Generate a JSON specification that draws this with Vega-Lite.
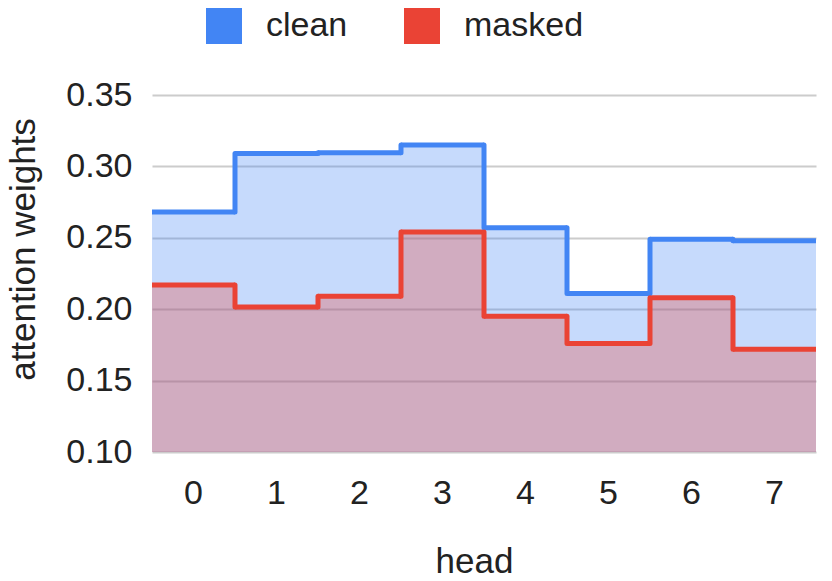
{
  "$schema": "https://vega.github.io/schema/vega-lite/v6.json",
  "width": 664,
  "height": 357,
  "autosize": {"type": "none"},
  "padding": {"left": 152, "top": 95, "right": 16, "bottom": 129},
  "config": {
    "view": {"stroke": null},
    "font": "Liberation Sans",
    "axis": {"labelFont": "Liberation Sans", "titleFont": "Liberation Sans", "labelColor": "#222", "titleColor": "#222", "labelFontSize": 34, "titleFontSize": 35, "titleFontWeight": "normal", "ticks": false, "domain": false},
    "legend": {"symbolOpacity": 1, "symbolStrokeWidth": 0}
  },
  "data": {
    "values": [
      {"head": 0, "clean": 0.268, "masked": 0.217},
      {"head": 1, "clean": 0.309, "masked": 0.2015},
      {"head": 2, "clean": 0.3095, "masked": 0.209},
      {"head": 3, "clean": 0.315, "masked": 0.254},
      {"head": 4, "clean": 0.257, "masked": 0.195},
      {"head": 5, "clean": 0.211, "masked": 0.176},
      {"head": 6, "clean": 0.249, "masked": 0.208},
      {"head": 7, "clean": 0.248, "masked": 0.172}
    ]
  },
  "transform": [
    {"fold": ["clean", "masked"], "as": ["series", "value"]},
    {"window": [{"op": "lead", "field": "value", "as": "next"}], "groupby": ["series"], "sort": [{"field": "head", "order": "ascending"}]}
  ],
  "encoding": {
    "x": {
      "field": "head", "type": "ordinal",
      "scale": {"paddingInner": 0, "paddingOuter": 0},
      "axis": {"labelAngle": 0, "labelPadding": 24, "title": "head", "titlePadding": 34, "titleX": 322, "titleAlign": "center", "grid": false}
    },
    "color": {
      "field": "series", "type": "nominal",
      "scale": {"domain": ["clean", "masked"], "range": ["#4285F4", "#EA4335"]},
      "legend": {"orient": "none", "legendX": 54, "legendY": -87, "direction": "horizontal", "title": null, "symbolType": "square", "symbolSize": 1296, "labelFontSize": 34, "labelColor": "#222", "labelFont": "Liberation Sans", "labelOffset": 24, "columnPadding": 56}
    }
  },
  "layer": [
    {
      "mark": {"type": "bar", "opacity": 0.3},
      "encoding": {
        "y": {
          "field": "value", "type": "quantitative",
          "scale": {"domain": [0.1, 0.35], "nice": false, "zero": false},
          "axis": {"values": [0.1, 0.15, 0.2, 0.25, 0.3, 0.35], "format": ".2f", "labelPadding": 20, "title": "attention weights", "titlePadding": 24, "titleY": 154, "titleAlign": "center", "gridColor": "#cccccc", "gridWidth": 2}
        },
        "y2": {"datum": 0.1},
        "order": {"field": "series"}
      }
    },
    {
      "mark": {"type": "tick", "thickness": 5, "size": 83, "opacity": 1},
      "encoding": {"y": {"field": "value", "type": "quantitative"}}
    },
    {
      "transform": [{"filter": "datum.next != null"}],
      "mark": {"type": "rule", "strokeWidth": 5, "strokeCap": "round"},
      "encoding": {
        "x": {"field": "head", "type": "ordinal", "bandPosition": 1},
        "y": {"field": "value", "type": "quantitative"},
        "y2": {"field": "next"}
      }
    }
  ]
}
